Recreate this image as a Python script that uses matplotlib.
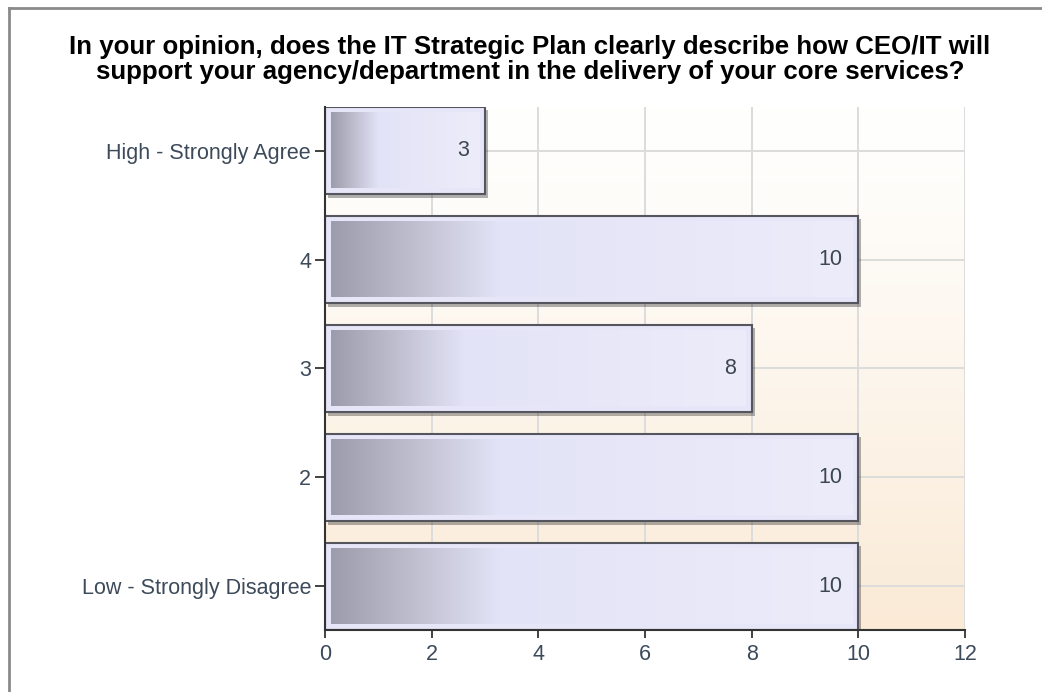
import numpy as np
import matplotlib
matplotlib.use("Agg")
import matplotlib.pyplot as plt
from matplotlib.colors import LinearSegmentedColormap
import matplotlib.patheffects as pe
from matplotlib.lines import Line2D

categories = ["High - Strongly Agree", "4", "3", "2", "Low - Strongly Disagree"]
values = [3, 10, 8, 10, 10]
xticks = [0, 2, 4, 6, 8, 10, 12]
title = ("In your opinion, does the IT Strategic Plan clearly describe how CEO/IT will\n"
         "support your agency/department in the delivery of your core services?")

plt.rcParams['font.family'] = ['Liberation Sans', 'DejaVu Sans']

W, H = 1042, 692
fig = plt.figure(figsize=(W / 100, H / 100), dpi=100)
fig.patch.set_facecolor('white')
ax = fig.add_axes([325 / W, 1 - 630 / H, 640 / W, 523 / H])

n = len(categories)
ypos = np.arange(n)[::-1]
xmax = xticks[-1]
h = 0.8
ylo, yhi = -h / 2, n - 1 + h / 2

# background gradient (vertical)
t = np.linspace(0, 1, 300).reshape(-1, 1) ** 1.2
bg_cmap = LinearSegmentedColormap.from_list('bg', ['#fffffe', '#faead6'])
ax.imshow(t, cmap=bg_cmap, vmin=0, vmax=1, extent=[0, xmax, ylo, yhi], origin='upper',
          aspect='auto', zorder=0, interpolation='bilinear')

ax.set_axisbelow(True)
ax.grid(True, color='#dcdcdc', linewidth=1.4)

bars = ax.barh(ypos, values, height=h, color='#e6e6f8', edgecolor='#55555d',
               linewidth=1.5, zorder=2)
for b in bars:
    b.set_path_effects([pe.SimplePatchShadow(offset=(2.2, -2.5), shadow_rgbFace='#000000', alpha=0.3),
                        pe.Normal()])

grad_cmap = LinearSegmentedColormap.from_list(
    'bar', [(0, '#9c9cac'), (0.15, '#bdbdce'), (0.32, '#e3e3f7'), (1, '#ececfa')])
gimg = np.linspace(0, 1, 256).reshape(1, -1)
ix, iy = 0.11, 0.055
for y, v in zip(ypos, values):
    ax.imshow(gimg, cmap=grad_cmap, extent=[ix, v - ix, y - h / 2 + iy, y + h / 2 - iy],
              aspect='auto', zorder=2.1, interpolation='bilinear')
    ax.text(v - 0.3, y, str(v), ha='right', va='center', fontsize=15.5,
            color='#3c4650', zorder=3)

ax.set_xlim(0, xmax)
ax.set_ylim(ylo, yhi)
ax.set_xticks(xticks)
ax.set_xticklabels([str(x) for x in xticks])
ax.set_yticks(ypos)
ax.set_yticklabels(categories)

for s in ['top', 'right']:
    ax.spines[s].set_visible(False)
for s in ['left', 'bottom']:
    ax.spines[s].set_color('#333333')
    ax.spines[s].set_linewidth(1.5)
    ax.spines[s].set_zorder(2.5)

ax.tick_params(axis='both', width=1.3, color='#333333',
               labelcolor='#3c4a5a', labelsize=15.5)
ax.tick_params(axis='y', length=7, pad=3)
ax.tick_params(axis='x', length=6, pad=4)

fig.text(530 / W, 1 - 59.5 / H, title, ha='center', va='center', fontsize=18.6,
         fontweight='bold', color='black', linespacing=1.02)

# outer frame
fig.add_artist(Line2D([9 / W, 9 / W], [0, 1 - 8 / H], transform=fig.transFigure,
                      color='#8a8a8a', lw=2))
fig.add_artist(Line2D([9 / W, 1], [1 - 8 / H, 1 - 8 / H], transform=fig.transFigure,
                      color='#8a8a8a', lw=2))

fig.savefig('out.png', dpi=100)
